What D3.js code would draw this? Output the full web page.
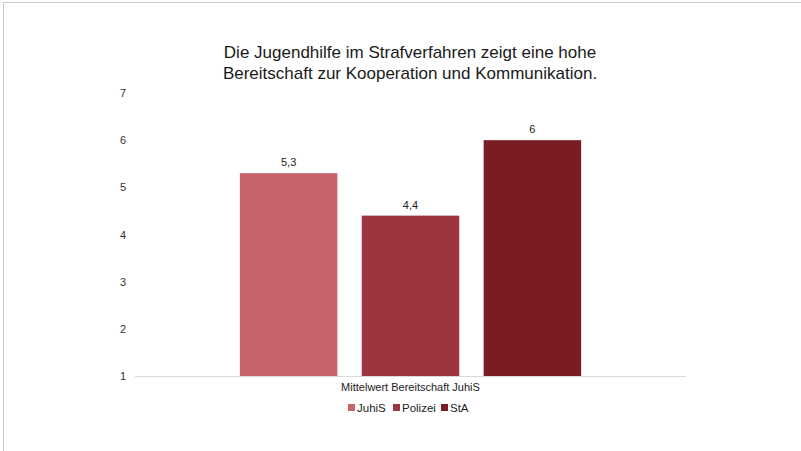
<!DOCTYPE html>
<html>
<head>
<meta charset="utf-8">
<script src="https://cdn.jsdelivr.net/npm/d3@7"></script>
<style>
  body { margin: 0; background: #fff; }
  svg { font-family: "Liberation Sans", Arial, sans-serif; }
</style>
</head>
<body>
<div id="vis"></div>
<script>
// Data
const CATEGORIES = ["Mittelwert Bereitschaft JuhiS"];
const SERIES = ["JuhiS", "Polizei", "StA"];
const VALUES = [5.3, 4.4, 6];
const LABELS = ["5,3", "4,4", "6"];
const Y_TICKS = [1, 2, 3, 4, 5, 6, 7];
const COLORS = ["#c6636b", "#9d3540", "#7a1c24"];

const FRAME_WIDTH = 801;
const FRAME_HEIGHT = 451;
const MARGINS = {left: 135, right: 115, top: 93, bottom: 75};

const SVG = d3.select("#vis")
  .append("svg")
    .attr("width", FRAME_WIDTH)
    .attr("height", FRAME_HEIGHT);

// outer frame (runs off right and bottom)
SVG.append("rect")
  .attr("x", 3.5).attr("y", 2.5)
  .attr("width", 820).attr("height", 470)
  .attr("fill", "#fff")
  .attr("stroke", "#c8c8c8");

// Scales
const X0 = d3.scaleBand()
  .domain(CATEGORIES)
  .range([MARGINS.left, FRAME_WIDTH - MARGINS.right])
  .padding(0.235);

const X1 = d3.scaleBand()
  .domain(SERIES)
  .range([0, X0.bandwidth()])
  .paddingInner(0.2);

const Y = d3.scaleLinear()
  .domain([1, 7])
  .range([FRAME_HEIGHT - MARGINS.bottom, MARGINS.top]);

// Title
SVG.append("text")
  .attr("x", 410).attr("y", 58)
  .attr("text-anchor", "middle")
  .attr("font-size", "17px").attr("fill", "#1a1a1a")
  .text("Die Jugendhilfe im Strafverfahren zeigt eine hohe");
SVG.append("text")
  .attr("x", 410).attr("y", 79)
  .attr("text-anchor", "middle")
  .attr("font-size", "17px").attr("fill", "#1a1a1a")
  .text("Bereitschaft zur Kooperation und Kommunikation.");

// Y axis (labels only)
const yAxis = SVG.append("g")
  .attr("transform", "translate(" + (MARGINS.left - 9) + ",0)")
  .call(d3.axisLeft(Y).tickValues(Y_TICKS).tickFormat(d3.format("d"))
    .tickSize(0).tickPadding(0));
yAxis.select(".domain").remove();
yAxis.selectAll("text")
  .attr("font-size", "11px")
  .attr("fill", "#333")
  .attr("font-family", "Liberation Sans, Arial, sans-serif");

// Bars
const group = SVG.append("g")
  .attr("transform", "translate(" + X0(CATEGORIES[0]) + ",0)");

group.selectAll("rect.bar")
  .data(VALUES)
  .enter()
  .append("rect")
    .attr("class", "bar")
    .attr("x", (d, i) => X1(SERIES[i]))
    .attr("y", (d) => Y(d))
    .attr("width", X1.bandwidth())
    .attr("height", (d) => Y(1) - Y(d))
    .attr("fill", (d, i) => COLORS[i]);

group.selectAll("text.val")
  .data(VALUES)
  .enter()
  .append("text")
    .attr("class", "val")
    .attr("x", (d, i) => X1(SERIES[i]) + X1.bandwidth() / 2)
    .attr("y", (d) => Y(d) - 7)
    .attr("text-anchor", "middle")
    .attr("font-size", "11px")
    .attr("fill", "#222")
    .text((d, i) => LABELS[i]);

// Baseline
SVG.append("line")
  .attr("x1", MARGINS.left).attr("x2", FRAME_WIDTH - MARGINS.right)
  .attr("y1", Y(1) + 0.5).attr("y2", Y(1) + 0.5)
  .attr("stroke", "#d9d9d9");

// Category label
SVG.append("text")
  .attr("x", X0(CATEGORIES[0]) + X0.bandwidth() / 2)
  .attr("y", Y(1) + 15)
  .attr("text-anchor", "middle")
  .attr("font-size", "11px")
  .attr("fill", "#222")
  .text(CATEGORIES[0]);

// Legend
const LEGEND_X = [348, 393, 441];
const legend = SVG.selectAll("g.legend")
  .data(SERIES)
  .enter()
  .append("g")
    .attr("class", "legend")
    .attr("transform", (d, i) => "translate(" + LEGEND_X[i] + "," + 408 + ")");

legend.append("rect")
  .attr("x", 0).attr("y", -4)
  .attr("width", 7).attr("height", 7)
  .attr("fill", (d, i) => COLORS[i]);

legend.append("text")
  .attr("x", 9).attr("y", 4)
  .attr("font-size", "11.5px")
  .attr("fill", "#222")
  .text((d) => d);
</script>
</body>
</html>
